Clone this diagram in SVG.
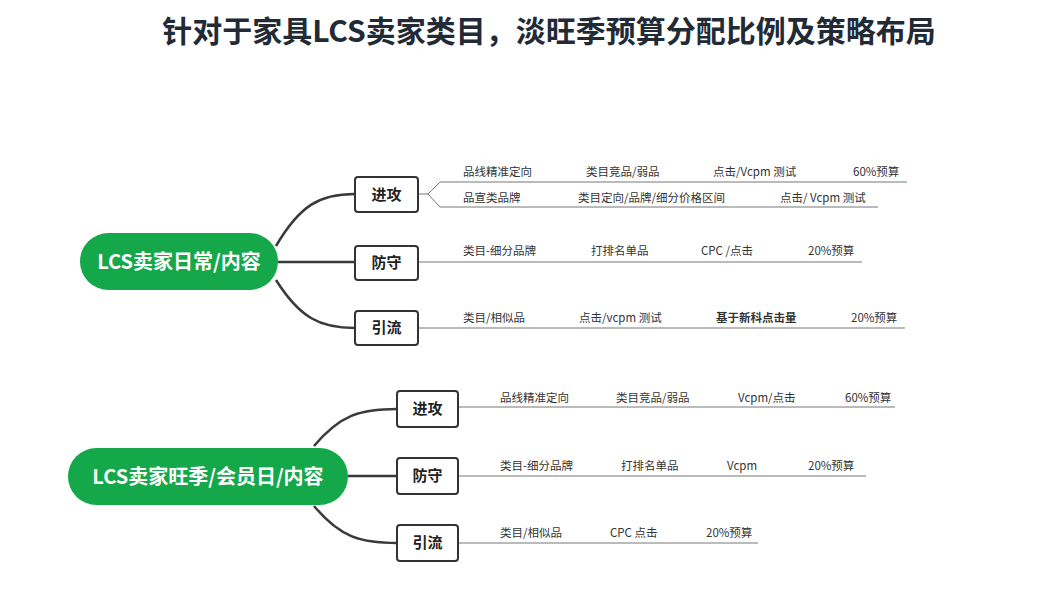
<svg xmlns="http://www.w3.org/2000/svg" width="1045" height="591" viewBox="0 0 1045 591">
<style>
text{font-family:"Noto Sans CJK SC","Noto Sans",sans-serif}
.t{font-size:30px;font-weight:bold;fill:#222a35}
.root{fill:#15a84a}
.rt{font-size:20px;font-weight:bold;fill:#fff}
.box{fill:#fff;stroke:#333;stroke-width:2}
.bt{font-size:15px;font-weight:bold;fill:#222}
.s{font-size:11.5px;fill:#333}
.c{fill:none;stroke:#3a3a3a;stroke-width:2.5}
.l{fill:none;stroke:#777;stroke-width:1}
</style>
<rect width="1045" height="591" fill="#fff"/>
<text class="t" x="549" y="42" text-anchor="middle">针对于家具LCS卖家类目，淡旺季预算分配比例及策略布局</text>
<g id="connectors">
<path class="c" d="M276,246 C300,205 320,194 355,194"/>
<path class="c" d="M278,262 H355"/>
<path class="c" d="M276,280 C300,318 320,328 355,328"/>
<path class="l" d="M418,194 H428 L440,182 H907 M428,194 L440,207 H878"/>
<path class="l" d="M418,262 H862"/>
<path class="l" d="M418,328 H905"/>
<path class="c" d="M314,446 C340,415 360,409 397,409"/>
<path class="c" d="M348,476 H397"/>
<path class="c" d="M314,506 C340,537 360,543 397,543"/>
<path class="l" d="M458,407 H895"/>
<path class="l" d="M458,476 H866"/>
<path class="l" d="M458,543 H758"/>
</g>
<g id="root1"><rect class="root" x="80" y="233" width="198" height="57" rx="28.5"/><text class="rt" x="179" y="269" text-anchor="middle">LCS卖家日常/内容</text></g>
<g id="root2"><rect class="root" x="68" y="448" width="280" height="57" rx="28.5"/><text class="rt" x="208" y="484" text-anchor="middle">LCS卖家旺季/会员日/内容</text></g>
<g id="n1a"><rect class="box" x="355" y="177" width="63" height="35" rx="3"/><text class="bt" x="386.5" y="200" text-anchor="middle">进攻</text></g>
<g id="n1b"><rect class="box" x="355" y="246" width="63" height="34" rx="3"/><text class="bt" x="386.5" y="268" text-anchor="middle">防守</text></g>
<g id="n1c"><rect class="box" x="355" y="311" width="63" height="34" rx="3"/><text class="bt" x="386.5" y="333" text-anchor="middle">引流</text></g>
<g id="n2a"><rect class="box" x="397" y="391" width="61" height="36" rx="3"/><text class="bt" x="427.5" y="414" text-anchor="middle">进攻</text></g>
<g id="n2b"><rect class="box" x="397" y="458" width="61" height="36" rx="3"/><text class="bt" x="427.5" y="481" text-anchor="middle">防守</text></g>
<g id="n2c"><rect class="box" x="397" y="525" width="61" height="36" rx="3"/><text class="bt" x="427.5" y="548" text-anchor="middle">引流</text></g>
<g id="labels1">
<text class="s" x="463" y="176">品线精准定向</text><text class="s" x="586" y="176">类目竞品/弱品</text><text class="s" x="713" y="176">点击/Vcpm 测试</text><text class="s" x="853" y="176">60%预算</text>
<text class="s" x="463" y="202">品宣类品牌</text><text class="s" x="578" y="202">类目定向/品牌/细分价格区间</text><text class="s" x="780" y="202">点击/ Vcpm 测试</text>
<text class="s" x="463" y="255">类目-细分品牌</text><text class="s" x="591" y="255">打排名单品</text><text class="s" x="701" y="255">CPC /点击</text><text class="s" x="808" y="255">20%预算</text>
<text class="s" x="463" y="322">类目/相似品</text><text class="s" x="579" y="322">点击/vcpm 测试</text><text class="s" x="716" y="322" font-weight="bold">基于新科点击量</text><text class="s" x="851" y="322">20%预算</text>
</g>
<g id="labels2">
<text class="s" x="500" y="402">品线精准定向</text><text class="s" x="616" y="402">类目竞品/弱品</text><text class="s" x="738" y="402">Vcpm/点击</text><text class="s" x="845" y="402">60%预算</text>
<text class="s" x="500" y="470">类目-细分品牌</text><text class="s" x="621" y="470">打排名单品</text><text class="s" x="727" y="470">Vcpm</text><text class="s" x="808" y="470">20%预算</text>
<text class="s" x="500" y="537">类目/相似品</text><text class="s" x="610" y="537">CPC 点击</text><text class="s" x="706" y="537">20%预算</text>
</g>
</svg>
